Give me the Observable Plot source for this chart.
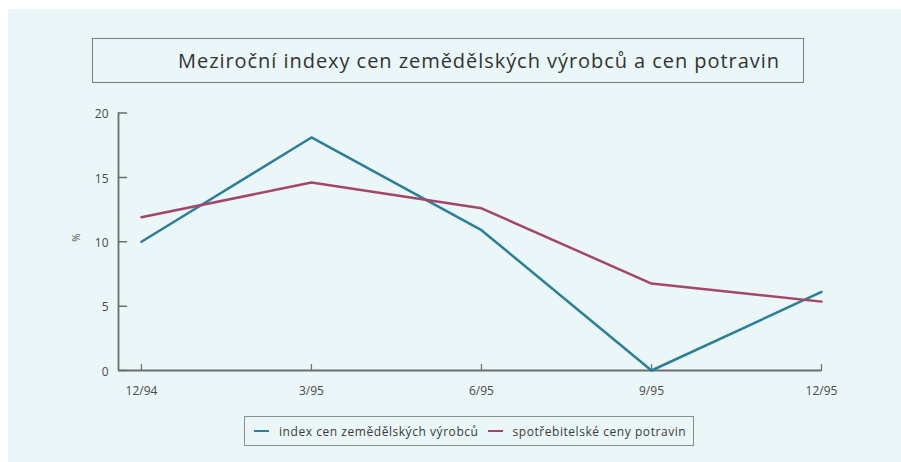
<!DOCTYPE html>
<html>
<head>
<meta charset="utf-8">
<script src="https://cdn.jsdelivr.net/npm/d3@7"></script>
<script src="https://cdn.jsdelivr.net/npm/@observablehq/plot@0.6"></script>
<style>
  body { margin:0; background:#ffffff; width:901px; height:462px; overflow:hidden; font-family: "Open Sans", sans-serif; }
  #bg { position:absolute; left:8px; top:9px; width:893px; height:453px; background:#eaf6f7; }
  #title { position:absolute; left:92px; top:38px; width:712px; height:45px; box-sizing:border-box; padding-left:62px;
           border:1.5px solid #7a7d7f;
           display:flex; align-items:center; justify-content:center; font-size:20px; letter-spacing:0.95px; color:#333; }
  #chart { position:absolute; left:0; top:95px; }
  #legend { position:absolute; left:244px; top:416px; width:448px; height:28px; border:1.5px solid #8a8d8f;
            display:flex; align-items:center; font-size:12px; letter-spacing:0.55px; color:#3a3a3a; }
  .sw { display:inline-block; width:15px; height:2.5px; margin-left:9px; margin-right:10px; }
</style>
</head>
<body>
<div id="bg"></div>
<div id="title"></div>
<div id="chart"></div>
<div id="legend"></div>
<script>
const titleText = "Meziroční indexy cen zemědělských výrobců a cen potravin";
const periods = ["12/94", "3/95", "6/95", "9/95", "12/95"];
const seriesNames = ["index cen zemědělských výrobců", "spotřebitelské ceny potravin"];
const seriesColors = ["#2c7f96", "#a4466a"];
const farmIndex = [10.0, 18.1, 10.9, 0, 6.1];
const foodPrices = [11.9, 14.6, 12.6, 6.75, 5.35];
const yTicks = [0, 5, 10, 15, 20];
const yLabel = "%";

const rows = [];
periods.forEach((p, i) => {
  rows.push({i, series: seriesNames[0], value: farmIndex[i]});
  rows.push({i, series: seriesNames[1], value: foodPrices[i]});
});
const xIdx = d3.range(periods.length);

document.getElementById("title").textContent = titleText;

const axisColor = "#6b6e70";
const x0 = -0.135;
const tickShape = {draw(ctx, l) { ctx.moveTo(0, 0); ctx.lineTo(0, -l); }};
const chart = Plot.plot({
  width: 901,
  height: 310,
  marginLeft: 118,
  marginRight: 80,
  marginTop: 17.5,
  marginBottom: 35,
  style: {background: "transparent", fontFamily: "'Open Sans', sans-serif", fontSize: "12px", color: "#4a4a4a"},
  x: {domain: [x0, 4]},
  y: {domain: [0, 20]},
  color: {domain: seriesNames, range: seriesColors},
  marks: [
    Plot.axisY({ticks: yTicks, tickSize: 0, tickPadding: 10, label: null, dy: 1.5}),
    Plot.axisX({ticks: xIdx, tickFormat: i => periods[i], tickSize: 0, tickPadding: 16, label: null}),
    Plot.vector(yTicks, {x: x0, y: d => d, length: 8, rotate: 90, anchor: "start", shape: tickShape, stroke: axisColor, strokeWidth: 1.5}),
    Plot.vector(xIdx, {x: d => d, y: 0, length: 6, rotate: 0, anchor: "start", shape: tickShape, stroke: axisColor, strokeWidth: 1.2}),
    Plot.ruleX([x0], {stroke: axisColor, strokeWidth: 1.8}),
    Plot.ruleY([0], {stroke: axisColor, strokeWidth: 1.8}),
    Plot.line(rows, {x: "i", y: "value", z: "series", stroke: "series", strokeWidth: 2.5}),
    Plot.text([yLabel], {frameAnchor: "left", dx: -42, rotate: -90, fontSize: 10, fill: "#555"})
  ]
});
document.getElementById("chart").appendChild(chart);

const legend = document.getElementById("legend");
seriesNames.forEach((name, k) => {
  const sw = document.createElement("span");
  sw.className = "sw";
  sw.style.background = seriesColors[k];
  legend.appendChild(sw);
  const t = document.createElement("span");
  t.textContent = name;
  legend.appendChild(t);
});
</script>
</body>
</html>
